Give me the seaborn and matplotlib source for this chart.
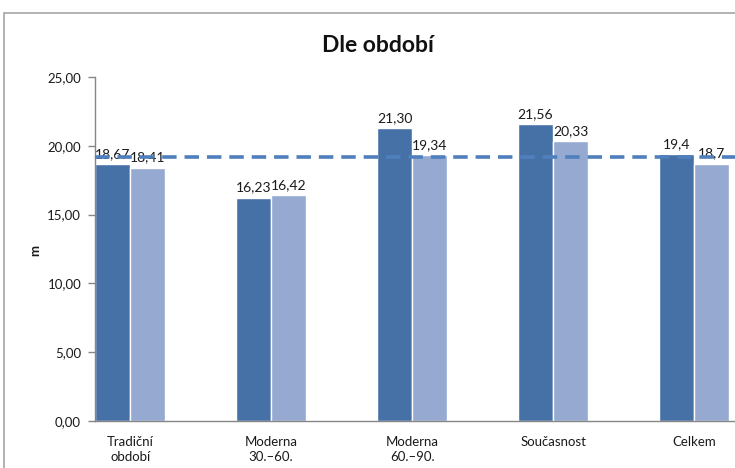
import matplotlib

matplotlib.use("Agg")
import matplotlib.patches as mpatches
import matplotlib.pyplot as plt
import matplotlib.ticker as ticker
import pandas as pd
import seaborn as sns

# --- Data ---
periods = ["Tradiční\nobdobí", "Moderna\n30.–60.", "Moderna\n60.–90.", "Současnost", "Celkem"]
series_a = [18.67, 16.23, 21.30, 21.56, 19.4]
series_b = [18.41, 16.42, 19.34, 20.33, 18.7]
labels_a = ["18,67", "16,23", "21,30", "21,56", "19,4"]
labels_b = ["18,41", "16,42", "19,34", "20,33", "18,7"]
mean_line = 19.2

DARK = "#4571A7"
LIGHT = "#95A9D1"
LINE = "#4F7FBD"

W, H = 735, 468


def px_x(v):
    return v / W


def px_y(v):
    return 1 - v / H


df = pd.DataFrame(
    {
        "period": periods * 2,
        "value": series_a + series_b,
        "series": ["a"] * len(periods) + ["b"] * len(periods),
    }
)

sns.set_theme(style="white")
plt.rcParams["font.family"] = ["Lato", "DejaVu Sans"]

fig = plt.figure(figsize=(W / 100, H / 100), dpi=100)

# chart frame (cropped Excel-style border)
fig.patches.append(
    mpatches.Rectangle(
        (px_x(4), -0.2), 1.5, px_y(13) + 0.2,
        transform=fig.transFigure, fill=False, edgecolor="#A6A6A6", linewidth=1.2,
    )
)

# plot area: x from 95px, 0 at y=421, 25 at y=77; cropped on the right
left_px, right_px = 95, 130 + 4.5 * 141
ax = fig.add_axes([px_x(left_px), px_y(421), (right_px - left_px) / W, 344 / H])

sns.barplot(
    data=df, x="period", y="value", hue="series",
    palette={"a": DARK, "b": LIGHT}, width=0.5, saturation=1,
    legend=False, ax=ax,
)

for container, labs in zip(ax.containers, [labels_a, labels_b]):
    ax.bar_label(container, labels=labs, padding=3, fontsize=10, color="#1a1a1a")

ax.axhline(mean_line, color=LINE, linewidth=2.6, linestyle=(0, (4, 2.2)), zorder=5)

ax.set_xlim(-0.25, 4.5)
ax.set_ylim(0, 25)
ax.yaxis.set_major_locator(ticker.MultipleLocator(5))
ax.yaxis.set_major_formatter(
    ticker.FuncFormatter(lambda v, p: f"{v:.2f}".replace(".", ","))
)

sns.despine(ax=ax, top=True, right=True)
for s in ["left", "bottom"]:
    ax.spines[s].set_color("#868686")
    ax.spines[s].set_linewidth(1.0)

ax.tick_params(axis="y", left=True, length=5, width=1, color="#868686",
               labelsize=9.5, pad=5, labelcolor="#1a1a1a")
ax.tick_params(axis="x", bottom=False, labelsize=9.5, pad=5, labelcolor="#1a1a1a")
for lab in ax.get_xticklabels():
    lab.set_linespacing(1.3)
ax.set_xlabel("")
ax.set_ylabel("")

fig.text(px_x(35), px_y(250), "m", rotation=90, ha="center", va="center",
         fontsize=9.5, fontweight="bold", color="#1a1a1a")
fig.text(px_x(378), px_y(45), "Dle období", ha="center", va="center",
         fontsize=16.5, fontweight="bold", color="#111111")

fig.savefig("out.png", dpi=100)
